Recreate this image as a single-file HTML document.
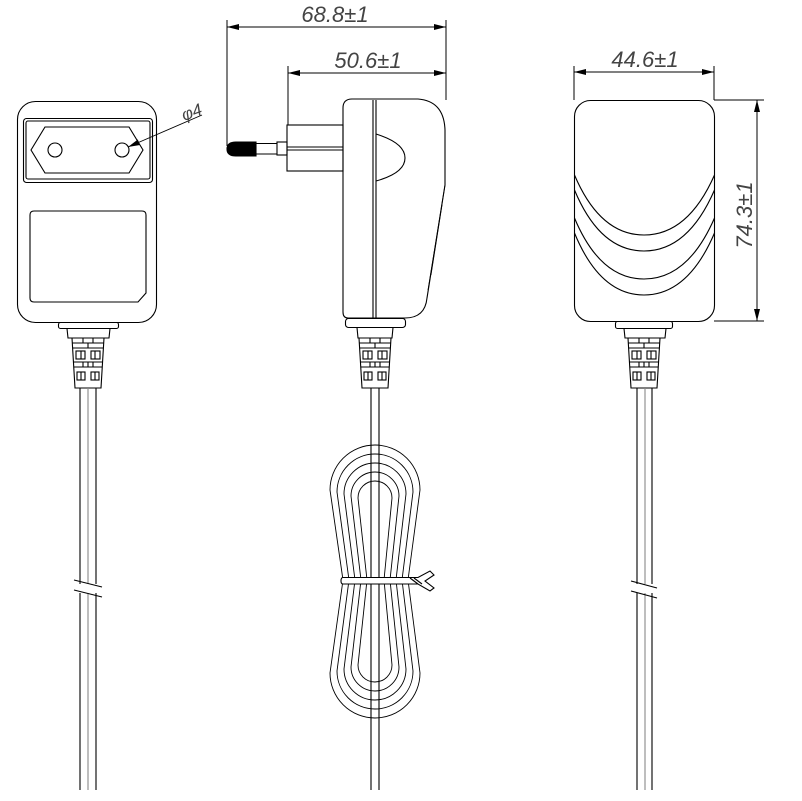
<!DOCTYPE html>
<html><head><meta charset="utf-8"><style>
html,body{margin:0;padding:0;background:#fff;}
svg{display:block;}
text{font-family:"Liberation Sans",sans-serif;font-style:italic;fill:#444;}
</style></head><body>
<svg width="802" height="801" viewBox="0 0 802 801" xmlns="http://www.w3.org/2000/svg">
<defs>
<marker id="ar" viewBox="0 0 12 6" refX="12" refY="3" markerWidth="12" markerHeight="6" orient="auto-start-reverse" markerUnits="userSpaceOnUse"><path d="M0,0 L12,3 L0,6 Z" fill="#000"/></marker>
<g id="relief" fill="none" stroke="#000" stroke-width="1.1">
  <path d="M-16,0 L16,0 L13,50 L-13,50 Z"/>
  <line x1="-15.7" y1="5" x2="15.7" y2="5"/>
  <line x1="-15.4" y1="10" x2="15.4" y2="10"/>
  <line x1="-5" y1="0" x2="-5" y2="5"/><line x1="5" y1="0" x2="5" y2="5"/>
  <line x1="0" y1="5" x2="0" y2="10"/>
  <rect x="-12" y="13" width="9" height="8"/><rect x="3" y="13" width="9" height="8"/>
  <line x1="-7" y1="13" x2="-7" y2="21"/><line x1="7" y1="13" x2="7" y2="21"/>
  <line x1="-14.6" y1="24" x2="14.6" y2="24"/>
  <line x1="-14.3" y1="29" x2="14.3" y2="29"/>
  <line x1="-5" y1="24" x2="-5" y2="29"/><line x1="5" y1="24" x2="5" y2="29"/>
  <line x1="0" y1="29" x2="0" y2="24"/>
  <rect x="-11" y="34" width="8" height="8"/><rect x="3" y="34" width="8" height="8"/>
  <line x1="-7" y1="34" x2="-7" y2="42"/><line x1="7" y1="34" x2="7" y2="42"/>
</g>
</defs>

<g fill="none" stroke="#000" stroke-width="1.1">
<!-- ===== LEFT VIEW ===== -->
<rect x="17.5" y="101.5" width="139" height="221" rx="18"/>
<rect x="23.5" y="118.5" width="129" height="64" rx="3"/>
<rect x="26" y="121" width="124" height="58" rx="2"/>
<path d="M31,150 L45,127 L129,127 L143,150 L129,173 L45,173 Z"/>
<circle cx="55" cy="150" r="7"/>
<circle cx="122" cy="150" r="7"/>
<line x1="128" y1="147" x2="202" y2="115" stroke-width="0.9" marker-start="url(#ar)"/>
<path d="M34,211 L142,211 Q146,211 146,215 L146,293 L138,302 L34,302 Q30,302 30,298 L30,215 Q30,211 34,211 Z"/>
<rect x="58.5" y="322.5" width="60" height="6" rx="2"/>
<path d="M67,328.5 L110,328.5 L109,338 L68,338 Z"/>
<use href="#relief" x="88" y="338"/>
<line x1="80" y1="388" x2="80" y2="584"/><line x1="96" y1="388" x2="96" y2="584"/>
<line x1="88" y1="388" x2="88" y2="584" stroke="#888"/>
<line x1="80" y1="593" x2="80" y2="790"/><line x1="96" y1="593" x2="96" y2="790"/>
<line x1="88" y1="593" x2="88" y2="790" stroke="#888"/>
<line x1="74" y1="580" x2="102" y2="587"/>
<line x1="74" y1="590" x2="102" y2="597"/>

<!-- ===== CENTER VIEW ===== -->
<path d="M343,108 Q343,99 352,99 L418,99 Q444,101 445,130 L445,185 L427,298 Q425,318 405,318 L348,318 Q343,318 343,312 Z"/>
<path d="M445,185 L428,290" stroke-width="0.8"/>
<path d="M442,205 L431,275" stroke-width="0.8"/>
<line x1="373" y1="100" x2="373" y2="319"/>
<line x1="376" y1="100" x2="376" y2="319"/>
<path d="M376,134 Q405,143 405,158 Q405,173 376,181"/>
<rect x="287" y="125" width="56" height="46"/>
<line x1="287" y1="147" x2="343" y2="147"/>
<line x1="287" y1="150" x2="343" y2="150"/>
<rect x="277" y="142" width="10" height="13"/>
<line x1="256" y1="143.5" x2="277" y2="143.5"/><line x1="256" y1="154" x2="277" y2="154"/>
<path d="M256,142 L236,142 Q227,142 227,149 Q227,156 236,156 L256,156 Z" fill="#000"/>
<rect x="345.5" y="318.5" width="60" height="9" rx="3"/>
<path d="M357,327.5 L393,327.5 L392,338 L358,338 Z"/>
<use href="#relief" x="375" y="338"/>
<line x1="371" y1="388" x2="371" y2="790"/>
<line x1="379" y1="388" x2="379" y2="790"/>
<!-- coil -->
<g stroke-width="0.9">
<path d="M343,580 L330,490 A45,45 0 0 1 420,490 L408,580 L420,673 A45,45 0 0 1 330,673 Z"/>
<path d="M349,580 L337,492 A38,38 0 0 1 413,492 L402,580 L413,671 A38,38 0 0 1 337,671 Z"/>
<path d="M355,580 L344,494 A31,31 0 0 1 406,494 L396,580 L406,669 A31,31 0 0 1 344,669 Z"/>
<path d="M361,580 L351,496 A24,24 0 0 1 399,496 L390,580 L399,667 A24,24 0 0 1 351,667 Z"/>
<path d="M367,580 L358,498 A17,17 0 0 1 392,498 L384,580 L392,665 A17,17 0 0 1 358,665 Z"/>
</g>
<path d="M343,577.5 L418,577.5 L430,571 L434,575 L425,581 L434,588 L430,591 L418,584 L343,584 Q341,584 341,581 Q341,577.5 343,577.5 Z" fill="#fff"/>
<line x1="410" y1="578" x2="418" y2="584"/>
<line x1="414" y1="578" x2="422" y2="584"/>

<!-- ===== RIGHT VIEW ===== -->
<rect x="574.5" y="100.5" width="140" height="221" rx="16"/>
<path d="M574.5,175 Q600,235 644,235 Q688,235 714.5,175"/>
<path d="M574.5,190 Q600,251 644,251 Q688,251 714.5,190"/>
<path d="M574.5,218 Q600,279 644,279 Q688,279 714.5,218"/>
<path d="M574.5,233 Q600,295 644,295 Q688,295 714.5,233"/>
<rect x="615.5" y="321.5" width="57" height="7" rx="2"/>
<path d="M624,328.5 L666,328.5 L665,338 L625,338 Z"/>
<use href="#relief" x="644" y="338"/>
<line x1="637" y1="388" x2="637" y2="584"/><line x1="652" y1="388" x2="652" y2="584"/>
<line x1="645" y1="388" x2="645" y2="584" stroke="#888"/>
<line x1="637" y1="593" x2="637" y2="790"/><line x1="652" y1="593" x2="652" y2="790"/>
<line x1="645" y1="593" x2="645" y2="790" stroke="#888"/>
<line x1="631" y1="581" x2="657" y2="588"/>
<line x1="631" y1="591" x2="657" y2="598"/>

<!-- ===== DIMENSIONS ===== -->
<g stroke-width="1">
<line x1="227" y1="20" x2="227" y2="146"/>
<line x1="446" y1="20" x2="446" y2="100"/>
<line x1="288" y1="66" x2="288" y2="125"/>
<line x1="227" y1="27" x2="446" y2="27" marker-start="url(#ar)" marker-end="url(#ar)"/>
<line x1="288" y1="73" x2="446" y2="73" marker-start="url(#ar)" marker-end="url(#ar)"/>
<line x1="574" y1="66" x2="574" y2="100"/>
<line x1="714" y1="66" x2="714" y2="100"/>
<line x1="574" y1="72" x2="714" y2="72" marker-start="url(#ar)" marker-end="url(#ar)"/>
<line x1="714" y1="100" x2="764" y2="100"/>
<line x1="714" y1="321" x2="764" y2="321"/>
<line x1="757" y1="100" x2="757" y2="321" marker-start="url(#ar)" marker-end="url(#ar)"/>
</g>
</g>
<text x="335" y="22" font-size="22" text-anchor="middle">68.8±1</text>
<text x="368" y="68" font-size="22" text-anchor="middle">50.6±1</text>
<text x="645" y="67" font-size="22" text-anchor="middle">44.6±1</text>
<text x="184" y="121" font-size="17" transform="rotate(-20 184 121)">φ4</text>
<text x="0" y="0" font-size="22" text-anchor="middle" transform="translate(752,215) rotate(-90)">74.3±1</text>
</svg>
</body></html>
